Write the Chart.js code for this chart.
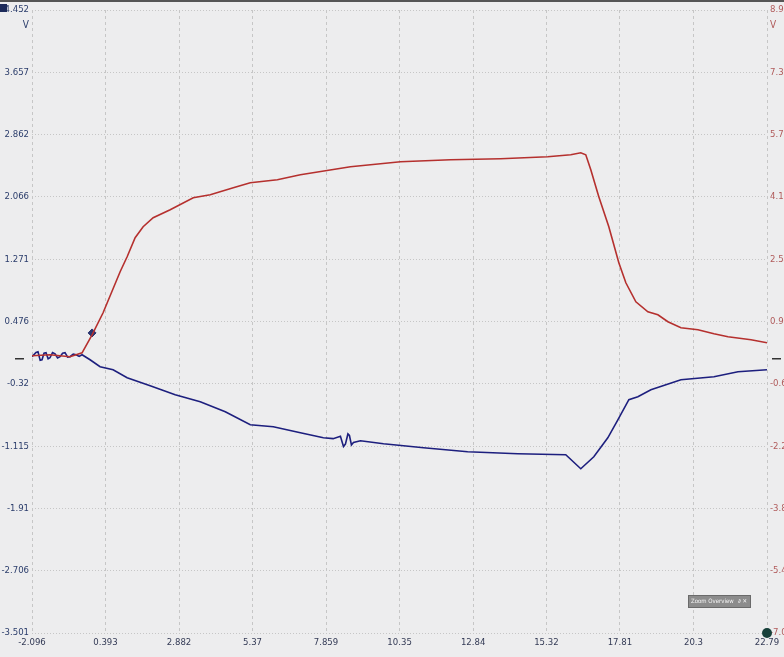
<!DOCTYPE html>
<html>
<head>
<meta charset="utf-8">
<script src="https://cdn.jsdelivr.net/npm/chart.js@4/dist/chart.umd.min.js"></script>
<style>
  html, body { margin: 0; padding: 0; background: #ededee; }
  #wrap { width: 784px; height: 657px; position: relative; }
</style>
</head>
<body>
<div id="wrap"><canvas id="scopeChart"></canvas></div>
<script>
// --- axis ticks ---
const xTicks = [-2.096, 0.393, 2.882, 5.37, 7.859, 10.35, 12.84, 15.32, 17.81, 20.3, 22.79];
const leftTicks = [-3.501, -2.706, -1.91, -1.115, -0.32, 0.476, 1.271, 2.066, 2.862, 3.657, 4.452];
const rightTicks = [-7.001, -5.41, -3.82, -2.23, -0.639, 0.952, 2.542, 4.133, 5.724, 7.314, 8.905];

// --- blue trace (left axis, V) ---
const blueT = [-2.096, -1.96, -1.893, -1.82, -1.757, -1.69, -1.621, -1.55, -1.486, -1.40, -1.316, -1.23,
  -1.147, -1.06, -0.977, -0.89, -0.808, -0.70, -0.604, -0.50, -0.401, -0.130, 0.209, 0.650, 1.125,
  1.905, 2.752, 3.600, 4.448, 5.295, 6.075, 6.991, 7.770, 8.10, 8.347, 8.45, 8.516, 8.60, 8.652,
  8.72, 8.788, 9.025, 9.805, 11.161, 12.653, 14.349, 15.976, 16.485, 16.926, 17.400, 17.740,
  18.113, 18.418, 18.859, 19.876, 20.994, 21.808, 22.79];
const blueV = [0.026, 0.08, 0.089, -0.02, -0.013, 0.07, 0.077, 0.0, 0.013, 0.08, 0.064, 0.01,
  0.026, 0.07, 0.077, 0.02, 0.026, 0.06, 0.051, 0.03, 0.051, -0.013, -0.102, -0.140, -0.243,
  -0.345, -0.460, -0.549, -0.677, -0.843, -0.868, -0.945, -1.009, -1.02, -0.99, -1.12, -1.09, -0.96, -0.98,
  -1.10, -1.07, -1.047, -1.085, -1.136, -1.187, -1.213, -1.226, -1.404, -1.251, -1.009, -0.779,
  -0.523, -0.485, -0.396, -0.268, -0.230, -0.166, -0.140];

// --- red trace (right axis, V) ---
const redT = [-2.096, -1.486, -0.808, -0.401, -0.062, 0.311, 0.888, 1.125, 1.396, 1.667, 2.007,
  2.583, 3.363, 3.939, 4.719, 5.295, 6.211, 6.991, 8.686, 10.381, 12.076, 13.771, 15.365,
  16.145, 16.485, 16.654, 16.824, 17.095, 17.434, 17.773, 18.011, 18.350, 18.757, 19.096,
  19.435, 19.876, 20.452, 20.994, 21.469, 22.249, 22.79];
const redV = [0.077, 0.102, 0.051, 0.153, 0.613, 1.175, 2.222, 2.605, 3.090, 3.371, 3.601,
  3.805, 4.111, 4.188, 4.366, 4.494, 4.571, 4.698, 4.903, 5.030, 5.081, 5.107, 5.158,
  5.209, 5.260, 5.209, 4.826, 4.137, 3.371, 2.451, 1.941, 1.455, 1.200, 1.124,
  0.945, 0.792, 0.741, 0.638, 0.562, 0.485, 0.409];

// cursor marker on the red trace
const cursorT = [-0.062];
const cursorV = [0.66];

const FONT = '"Liberation Sans Narrow", "DejaVu Sans Condensed", sans-serif';
const pairs = (xs, ys) => xs.map((x, i) => ({ x: x, y: ys[i] }));

const decorations = {
  id: 'decorations',
  beforeDraw(chart) {
    const c = chart.ctx;
    c.save();
    c.fillStyle = '#ededee';
    c.fillRect(0, 0, chart.width, chart.height);
    c.restore();
  },
  afterDraw(chart) {
    const c = chart.ctx;
    const a = chart.chartArea;
    const z = chart.scales.y.getPixelForValue(0);
    c.save();
    // top frame line
    c.fillStyle = '#555';
    c.fillRect(0, 0, chart.width, 2);
    // top-left handle
    c.fillStyle = '#1c2a5a';
    c.fillRect(0, 4, 7, 8);
    // unit labels
    c.font = '10px ' + FONT;
    c.textBaseline = 'middle';
    c.fillStyle = '#2b3d6b';
    c.textAlign = 'right';
    c.fillText('V', 29, 25);
    c.fillStyle = '#b05a5a';
    c.textAlign = 'left';
    c.fillText('V', 770, 25);
    // zero markers
    c.strokeStyle = '#333';
    c.lineWidth = 1.5;
    c.beginPath();
    c.moveTo(15, z); c.lineTo(24, z);
    c.moveTo(772, z); c.lineTo(781, z);
    c.stroke();
    // bottom right handle
    c.fillStyle = '#17403a';
    c.beginPath();
    c.arc(a.right, a.bottom, 5, 0, Math.PI * 2);
    c.fill();
    // zoom overview box
    c.fillStyle = '#8c8c8c';
    c.fillRect(688, 595, 62, 12);
    c.strokeStyle = '#6a6a6a';
    c.lineWidth = 1;
    c.strokeRect(688.5, 595.5, 62, 12);
    c.fillStyle = '#f4f4f4';
    c.font = '6px ' + FONT;
    c.textAlign = 'left';
    c.fillText('Zoom Overview', 691, 601.5);
    c.fillText('\u2202 \u2715', 738, 601.5);
    c.restore();
  }
};

new Chart(document.getElementById('scopeChart'), {
  type: 'line',
  data: {
    datasets: [
      {
        label: 'CH2',
        data: pairs(redT, redV),
        yAxisID: 'y1',
        borderColor: '#b5302e',
        borderWidth: 1.6,
        pointRadius: 0,
        tension: 0
      },
      {
        label: 'CH1',
        data: pairs(blueT, blueV),
        yAxisID: 'y',
        borderColor: '#1d1f7e',
        borderWidth: 1.6,
        pointRadius: 0,
        tension: 0
      },
      {
        label: 'cursor',
        data: pairs(cursorT, cursorV),
        yAxisID: 'y1',
        showLine: false,
        pointStyle: 'rectRot',
        pointRadius: 4,
        pointBackgroundColor: '#2a3570',
        pointBorderColor: '#2a3570'
      }
    ]
  },
  options: {
    responsive: true,
    maintainAspectRatio: false,
    animation: false,
    layout: { padding: { top: 10, left: 0, right: 0, bottom: 0 } },
    plugins: {
      legend: { display: false },
      tooltip: { enabled: false }
    },
    scales: {
      x: {
        type: 'linear',
        min: -2.096,
        max: 22.79,
        afterBuildTicks: (axis) => { axis.ticks = xTicks.map(v => ({ value: v })); },
        afterFit: (axis) => { axis.height = 24; },
        ticks: {
          autoSkip: false,
          maxRotation: 0,
          padding: 4,
          color: '#333a55',
          font: { family: FONT, size: 9.5 },
          callback: (v, i) => String(xTicks[i])
        },
        grid: { color: '#c6c6c6', drawTicks: false },
        border: { display: false, dash: [3, 3] }
      },
      y: {
        position: 'left',
        min: -3.501,
        max: 4.452,
        afterBuildTicks: (axis) => { axis.ticks = leftTicks.map(v => ({ value: v })); },
        afterFit: (axis) => { axis.width = 32; },
        ticks: {
          autoSkip: false,
          padding: 3,
          color: '#2b3d6b',
          font: { family: FONT, size: 9.5 },
          callback: (v, i) => String(leftTicks[i])
        },
        grid: { color: '#c6c6c6', drawTicks: false },
        border: { display: false, dash: [1, 2] }
      },
      y1: {
        position: 'right',
        min: -7.001,
        max: 8.905,
        afterBuildTicks: (axis) => { axis.ticks = rightTicks.map(v => ({ value: v })); },
        afterFit: (axis) => { axis.width = 17; },
        ticks: {
          autoSkip: false,
          padding: 3,
          color: '#b05a5a',
          font: { family: FONT, size: 9.5 },
          callback: (v, i) => String(rightTicks[i])
        },
        grid: { display: false, drawTicks: false },
        border: { display: false }
      }
    }
  },
  plugins: [decorations]
});
</script>
</body>
</html>
